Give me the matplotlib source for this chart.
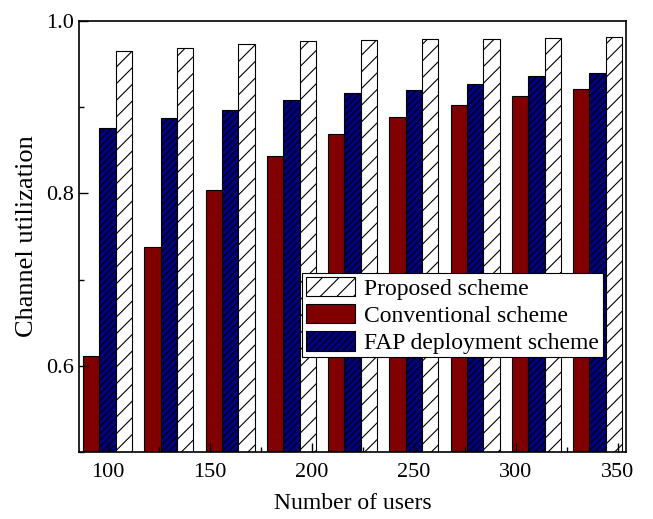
import numpy as np
import matplotlib
matplotlib.use('Agg')
import matplotlib.pyplot as plt
from matplotlib.ticker import MultipleLocator

plt.rcParams['font.family'] = ['Liberation Serif', 'DejaVu Serif']
plt.rcParams['hatch.linewidth'] = 0.8

users = [100, 130, 160, 190, 220, 250, 280, 310, 340]
conventional = [0.611, 0.738, 0.804, 0.843, 0.869, 0.888, 0.902, 0.913, 0.921]
fap = [0.876, 0.887, 0.896, 0.908, 0.916, 0.920, 0.927, 0.936, 0.940]
proposed = [0.965, 0.968, 0.973, 0.977, 0.978, 0.979, 0.979, 0.980, 0.981]

fig = plt.figure(figsize=(6.53, 5.19), dpi=100)
ax = fig.add_axes([0.121, 0.129, 0.838, 0.831])

x = np.array(users)
w = 8
b_conv = ax.bar(x - w, conventional, w, color='#800000', edgecolor='black', linewidth=0.8,
                label='Conventional scheme')
b_fap = ax.bar(x, fap, w, color='#000080', edgecolor='black', linewidth=0.8, hatch='/////',
               label='FAP deployment scheme')
b_prop = ax.bar(x + w, proposed, w, color='white', edgecolor='black', linewidth=0.8, hatch='//',
                label='Proposed scheme')

ax.set_xlim(86, 354)
ax.set_ylim(0.5, 1.0)
ax.xaxis.set_major_locator(MultipleLocator(50))
ax.xaxis.set_minor_locator(MultipleLocator(25))
ax.yaxis.set_minor_locator(MultipleLocator(0.1))
ax.set_yticks([0.6, 0.8, 1.0])
ax.set_yticklabels(['0.6', '0.8', '1.0'])

ax.tick_params(which='both', direction='in', top=False, right=False, labelsize=16)
ax.tick_params(which='major', length=6.5, width=1)
ax.tick_params(which='minor', length=3.5, width=1)
ax.tick_params(axis='x', pad=8)
for s in ax.spines.values():
    s.set_linewidth(1.2)

ax.set_xlabel('Number of users', fontsize=17, labelpad=8)
ax.set_ylabel('Channel utilization', fontsize=19, labelpad=6)

leg = ax.legend(handles=[b_prop, b_conv, b_fap], loc='upper left',
                bbox_to_anchor=(0.408, 0.415), fontsize=17, frameon=True, fancybox=False,
                edgecolor='black', framealpha=1, handlelength=2.07, handleheight=0.9,
                labelspacing=0.18, borderpad=0.15, handletextpad=0.4, borderaxespad=0)
leg.get_frame().set_linewidth(0.8)

fig.savefig('out.png', dpi=100)
